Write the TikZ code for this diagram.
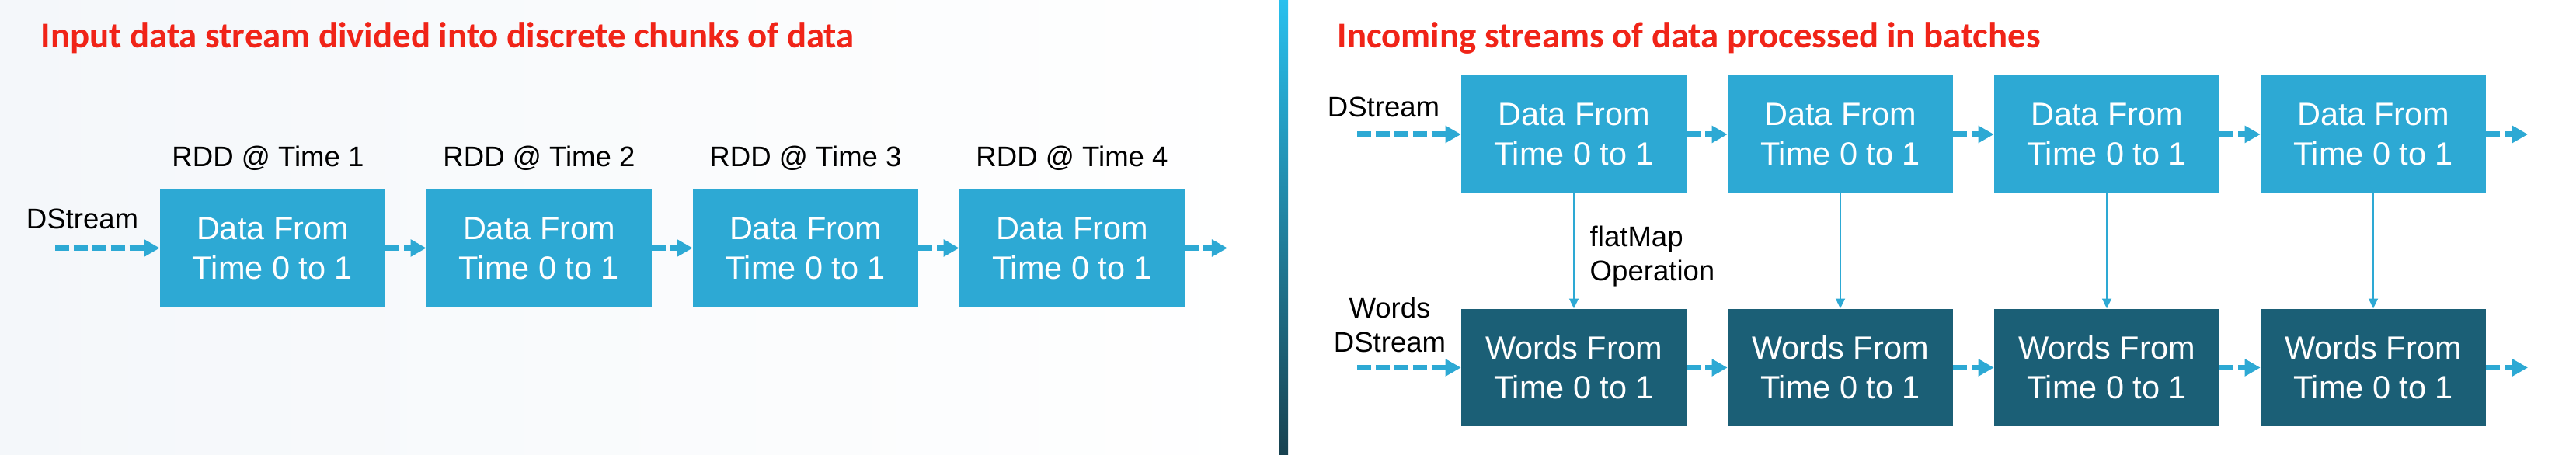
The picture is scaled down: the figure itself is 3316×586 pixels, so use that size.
\documentclass[tikz,border=0pt]{standalone}
\usepackage{fontspec}
\setmainfont{Liberation Sans}
\newfontfamily\headfont{Carlito}
\usetikzlibrary{arrows.meta,positioning}
\definecolor{chunkblue}{RGB}{45,169,212}
\definecolor{wordteal}{RGB}{27,95,118}
\definecolor{headred}{RGB}{240,36,24}
\definecolor{panegray}{RGB}{244,247,250}
\definecolor{bartop}{RGB}{40,192,238}
\definecolor{barbottom}{RGB}{24,66,80}

\begin{document}
\begin{tikzpicture}[
   x=.01cm,y=-.01cm,
   every node/.style={inner sep=0pt},
   chunk/.style={fill=chunkblue,text=white,minimum width=2.89cm,minimum height=1.51cm,
     align=center,font=\fontsize{11.8}{14.5}\selectfont},
   wordchunk/.style={chunk,fill=wordteal},
   head/.style={anchor=base west,text=headred,font=\headfont\bfseries\fontsize{13.3}{16}\selectfont},
   lbl/.style={font=\fontsize{10.4}{12.5}\selectfont},
   stream/.style={draw=chunkblue,line width=2pt,dash pattern=on 5.1pt off 1.7pt,
     -{Triangle[length=5.7pt,width=6pt]}},
   flatop/.style={draw=chunkblue,line width=.5pt,-{Triangle[length=3.6pt,width=3.4pt]}}
 ]
  \useasboundingbox (0,0) rectangle (3316,586);
  % Two panes and the bar between them.
  \shade[left color=panegray,right color=white] (0,0) rectangle (1646,586);
  \shade[top color=bartop,bottom color=barbottom] (1646,0) rectangle (1658,586);

  % Left pane: one DStream cut into RDDs.
  \node[head] (lefthead) at (52,62) {Input data stream divided into discrete chunks of data};
  \node[lbl,anchor=base] (instream) at (106,295) {DStream};
  \node[chunk] (d1) at (351,319.5) {Data From\\Time 0 to 1};
  \node[chunk] (d2) at (694,319.5) {Data From\\Time 0 to 1};
  \node[chunk] (d3) at (1037,319.5) {Data From\\Time 0 to 1};
  \node[chunk] (d4) at (1380,319.5) {Data From\\Time 0 to 1};
  \node[lbl,anchor=base] (rdd1) at (345,215) {RDD @ Time 1};
  \node[lbl,anchor=base] (rdd2) at (694,215) {RDD @ Time 2};
  \node[lbl,anchor=base] (rdd3) at (1037,215) {RDD @ Time 3};
  \node[lbl,anchor=base] (rdd4) at (1380,215) {RDD @ Time 4};
  \coordinate (din) at (71,319.5);
  \coordinate (dout) at (1580,319.5);
  \draw[stream] (din) -- (d1);
  \draw[stream] (d1) -- (d2);
  \draw[stream] (d2) -- (d3);
  \draw[stream] (d3) -- (d4);
  \draw[stream] (d4) -- (dout);

  % Right pane: batches turned into words by flatMap.
  \node[head] (righthead) at (1721,62) {Incoming streams of data processed in batches};
  \node[lbl,anchor=base] (topstream) at (1781,151) {DStream};
  \node[lbl,anchor=north,align=center] (wordstream) at (1789,382) {Words\\DStream};
  \node[chunk] (b1) at (2026,173) {Data From\\Time 0 to 1};
  \node[chunk] (b2) at (2369,173) {Data From\\Time 0 to 1};
  \node[chunk] (b3) at (2712,173) {Data From\\Time 0 to 1};
  \node[chunk] (b4) at (3055,173) {Data From\\Time 0 to 1};
  \node[wordchunk] (w1) at (2026,473.5) {Words From\\Time 0 to 1};
  \node[wordchunk] (w2) at (2369,473.5) {Words From\\Time 0 to 1};
  \node[wordchunk] (w3) at (2712,473.5) {Words From\\Time 0 to 1};
  \node[wordchunk] (w4) at (3055,473.5) {Words From\\Time 0 to 1};
  \coordinate (bin) at (1747,173);
  \coordinate (bout) at (3254,173);
  \coordinate (win) at (1747,473.5);
  \coordinate (wout) at (3254,473.5);
  \draw[stream] (bin) -- (b1);
  \draw[stream] (b1) -- (b2);
  \draw[stream] (b2) -- (b3);
  \draw[stream] (b3) -- (b4);
  \draw[stream] (b4) -- (bout);
  \draw[stream] (win) -- (w1);
  \draw[stream] (w1) -- (w2);
  \draw[stream] (w2) -- (w3);
  \draw[stream] (w3) -- (w4);
  \draw[stream] (w4) -- (wout);
  \draw[flatop] (b1) -- (w1);
  \draw[flatop] (b2) -- (w2);
  \draw[flatop] (b3) -- (w3);
  \draw[flatop] (b4) -- (w4);
  \node[lbl,anchor=north west,align=left] (opname) at (2046,290) {flatMap\\Operation};
 \end{tikzpicture}
\end{document}
